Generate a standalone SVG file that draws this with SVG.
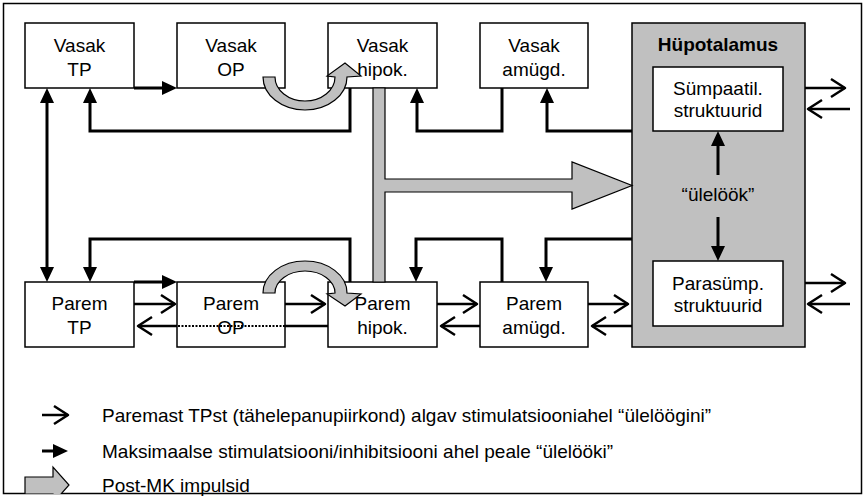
<svg xmlns="http://www.w3.org/2000/svg" width="866" height="499" viewBox="0 0 866 499">
<style>
text{font-family:"Liberation Sans",Arial,sans-serif;font-size:19px;fill:#000}
.c{text-anchor:middle}
.b{font-weight:bold}
.box{fill:#fff;stroke:#000;stroke-width:1.5}
.thick{fill:none;stroke:#000;stroke-width:3}
.thin{fill:none;stroke:#000;stroke-width:2.5}
.gray{fill:#c0c0c0;stroke:#000;stroke-width:1.2}
</style>
<defs>
<marker id="fa" markerUnits="userSpaceOnUse" markerWidth="16" markerHeight="14" refX="11" refY="7" orient="auto-start-reverse" overflow="visible">
<path d="M0,0 L15,7 L0,14 Z" fill="#000"/>
</marker>
<marker id="oa" markerUnits="userSpaceOnUse" markerWidth="14" markerHeight="18" refX="14" refY="9" orient="auto" overflow="visible">
<path d="M0,0 L14,9 L0,18" fill="none" stroke="#000" stroke-width="2.5" stroke-linejoin="round"/>
</marker>
<clipPath id="clipb"><rect x="0" y="0" width="866" height="494"/></clipPath>
</defs>
<rect x="3.5" y="3.5" width="858" height="490" fill="#fff" stroke="#000" stroke-width="1.5"/>

<g id="hypothalamus">
<rect x="632" y="23" width="173" height="324" fill="#c0c0c0" stroke="#000" stroke-width="1.5"/>
<text x="718" y="51" class="c b">Hüpotalamus</text>
<text x="718" y="201" class="c">“ülelöök”</text>
</g>
<g id="sympaatil">
<rect class="box" x="653" y="67" width="130" height="64"/>
<text x="718" y="95" class="c">Sümpaatil.</text>
<text x="718" y="117" class="c">struktuurid</text>
</g>
<g id="parasymp">
<rect class="box" x="653" y="261" width="130" height="65"/>
<text x="718" y="290" class="c">Parasümp.</text>
<text x="718" y="312" class="c">struktuurid</text>
</g>

<g id="vasak-tp"><rect class="box" x="25" y="23" width="109" height="65"/><text x="79.5" y="52" class="c">Vasak</text><text x="79.5" y="76" class="c">TP</text></g>
<g id="vasak-op"><rect class="box" x="177" y="23" width="108" height="65"/><text x="231" y="52" class="c">Vasak</text><text x="231" y="76" class="c">OP</text></g>
<g id="vasak-hipok"><rect class="box" x="328" y="23" width="109" height="65"/><text x="382.5" y="52" class="c">Vasak</text><text x="382.5" y="76" class="c">hipok.</text></g>
<g id="vasak-amugd"><rect class="box" x="480" y="23" width="108" height="65"/><text x="534" y="52" class="c">Vasak</text><text x="534" y="76" class="c">amügd.</text></g>

<g id="parem-tp"><rect class="box" x="25" y="282" width="109" height="65"/><text x="79.5" y="310" class="c">Parem</text><text x="79.5" y="334" class="c">TP</text></g>
<g id="parem-op"><rect class="box" x="177" y="282" width="108" height="65"/><text x="231" y="310" class="c">Parem</text><text x="231" y="334" class="c">OP</text></g>
<g id="parem-hipok"><rect class="box" x="328" y="282" width="109" height="65"/><text x="382.5" y="310" class="c">Parem</text><text x="382.5" y="334" class="c">hipok.</text></g>
<g id="parem-amugd"><rect class="box" x="480" y="282" width="108" height="65"/><text x="534" y="310" class="c">Parem</text><text x="534" y="334" class="c">amügd.</text></g>

<g id="connectors">
<path class="thick" d="M134,88 H173" marker-end="url(#fa)"/>
<path class="thick" d="M350,88 V131 H90 V92" marker-end="url(#fa)"/>
<path class="thick" d="M502,88 V131 H417 V92" marker-end="url(#fa)"/>
<path class="thick" d="M632,131 H547 V92" marker-end="url(#fa)"/>
<path class="thick" d="M47,92 V278" marker-start="url(#fa)" marker-end="url(#fa)"/>
<path class="thick" d="M350,282 V239 H90 V278" marker-end="url(#fa)"/>
<path class="thick" d="M502,282 V239 H416 V278" marker-end="url(#fa)"/>
<path class="thick" d="M632,239 H546 V278" marker-end="url(#fa)"/>
<path class="thick" d="M134,282 H173" marker-end="url(#fa)"/>
<path class="thick" d="M718,175 V135" marker-end="url(#fa)"/>
<path class="thick" d="M718,217 V257" marker-end="url(#fa)"/>

<path class="thin" d="M134,304 H175" marker-end="url(#oa)"/>
<path class="thin" d="M328,326 H285"/>
<path fill="none" stroke="#000" stroke-width="2" stroke-dasharray="2,1.5" d="M285,326 H177"/>
<path class="thin" d="M177,326 H138" marker-end="url(#oa)"/>
<path class="thin" d="M285,304 H325" marker-end="url(#oa)"/>
<path class="thin" d="M437,304 H477" marker-end="url(#oa)"/>
<path class="thin" d="M480,326 H441" marker-end="url(#oa)"/>
<path class="thin" d="M588,304 H628" marker-end="url(#oa)"/>
<path class="thin" d="M632,326 H592" marker-end="url(#oa)"/>
<path class="thin" d="M805,88 H845" marker-end="url(#oa)"/>
<path class="thin" d="M850,109 H808" marker-end="url(#oa)"/>
<path class="thin" d="M805,283 H845" marker-end="url(#oa)"/>
<path class="thin" d="M850,304 H808" marker-end="url(#oa)"/>

<path class="gray" d="M373,88 H385 V179 H572 V162 L632,185.5 L572,209 V192 H385 V282 H373 Z"/>
<path class="gray" d="M263,77 A42,33 0 0 0 347,77 L361,76 L345,63 L327,76 L335,77 A30,24 0 0 1 275,77 Z"/>
<path class="gray" d="M263,293 A42,32 0 0 1 347,293 L361,294 L345,306 L327,294 L335,293 A30,22 0 0 0 275,293 Z"/>
</g>

<g id="legend">
<path class="thin" d="M42,415 H68" marker-end="url(#oa)"/>
<text x="102" y="422">Paremast TPst (tähelepanupiirkond) algav stimulatsiooniahel “ülelöögini”</text>
<path class="thick" d="M42,451 H64" marker-end="url(#fa)"/>
<text x="102" y="458">Maksimaalse stimulatsiooni/inhibitsiooni ahel peale “ülelööki”</text>
<path class="gray" clip-path="url(#clipb)" d="M25,477 H53 V467 L69,485 L53,503 V494 H25 Z"/>
<text x="102" y="492">Post-MK impulsid</text>
</g>
</svg>
